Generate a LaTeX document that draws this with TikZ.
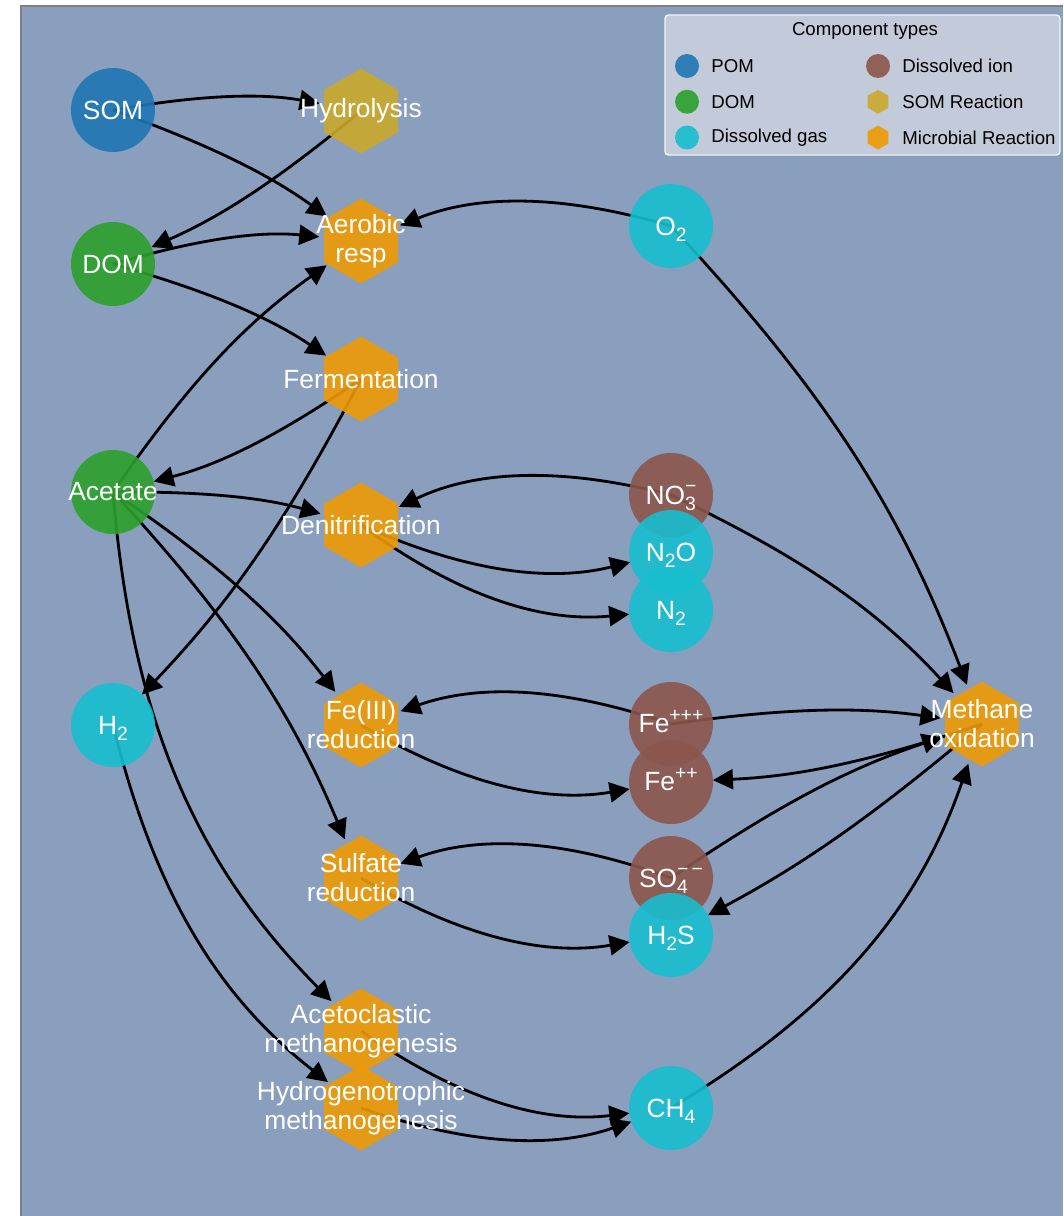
\documentclass[tikz,border=0pt]{standalone}
\usepackage{fontspec}
\setmainfont{Liberation Sans}
\usetikzlibrary{arrows.meta,shapes.geometric}

\definecolor{panel}{HTML}{8A9EBE}
\definecolor{keybg}{HTML}{C3CAD9}
\definecolor{cpom}{HTML}{1F77B4}
\definecolor{cdom}{HTML}{2CA02C}
\definecolor{cgas}{HTML}{17BECF}
\definecolor{cion}{HTML}{8C564B}
\definecolor{csomrxn}{HTML}{CAA92B}
\definecolor{cmicro}{HTML}{EE9A03}

\pgfdeclarelayer{back}
\pgfdeclarelayer{edges}
\pgfsetlayers{back,edges,main}

\newcommand{\sbs}[1]{\smash{\raisebox{-0.25em}{\fontsize{11}{11}\selectfont #1}}}
\newcommand{\sps}[1]{\smash{\raisebox{0.45em}{\fontsize{11}{11}\selectfont #1}}}
\newcommand{\subsup}[2]{\rlap{\sbs{#1}}\sps{#2}}
\newcommand{\nodefont}{\fontsize{15}{16.5}\selectfont}
\newcommand{\keyfont}{\fontsize{10.6}{12}\selectfont}

\tikzset{
    comp/.style={circle, minimum size=1.68cm, inner sep=0pt, fill opacity=0.9, draw=none},
    rxn/.style={regular polygon, regular polygon sides=6, shape border rotate=30,
        minimum size=1.7cm, inner sep=0pt, fill opacity=0.9, draw=none},
    lbl/.style={text=white, font=\nodefont, align=center, inner sep=0pt},
    keytext/.style={font=\keyfont, anchor=west, inner sep=0pt},
    flux/.style={-{Triangle[length=0.4cm, width=0.4cm]}, line width=1.6pt, shorten >=0.84cm},
}

\begin{document}
\begin{tikzpicture}[x=0.02cm, y=0.02cm]
    \useasboundingbox (0,0) rectangle (1063,-1216);

    \begin{pgfonlayer}{back}
        \fill[white] (0,0) rectangle (1063,-1216);
        \fill[panel] (21,-6) rectangle (1063,-1216);
        \draw[gray, line width=0.04cm] (21,-1216) -- (21,-6) -- (1063,-6);
    \end{pgfonlayer}

    % organic matter and reactions
    \node[comp, fill=cpom] (som) at (113,-110) {};
    \node[rxn, fill=csomrxn] (hyd) at (361,-111) {};
    \node[comp, fill=cdom] (dom) at (113,-264) {};
    \node[rxn, fill=cmicro] (aer) at (361,-241) {};
    \node[rxn, fill=cmicro] (fer) at (361,-379) {};
    \node[comp, fill=cdom] (ace) at (113,-492) {};
    \node[rxn, fill=cmicro] (den) at (361,-525) {};
    \node[comp, fill=cgas] (h2) at (113,-725) {};
    \node[rxn, fill=cmicro] (feiii) at (361,-725) {};
    \node[rxn, fill=cmicro] (sred) at (361,-878) {};
    \node[rxn, fill=cmicro] (acm) at (361,-1031) {};
    \node[rxn, fill=cmicro] (hym) at (361,-1108) {};

    % ions and gases
    \node[comp, fill=cgas] (o2) at (671,-226) {};
    \node[comp, fill=cion] (no3) at (671,-495) {};
    \node[comp, fill=cgas] (n2o) at (671,-552) {};
    \node[comp, fill=cgas] (n2) at (671,-610) {};
    \node[comp, fill=cion] (fe3) at (671,-724) {};
    \node[comp, fill=cion] (fe2) at (671,-782) {};
    \node[comp, fill=cion] (so4) at (671,-878) {};
    \node[comp, fill=cgas] (h2s) at (671,-935) {};
    \node[comp, fill=cgas] (ch4) at (671,-1108) {};
    \node[rxn, fill=cmicro] (mox) at (982,-724) {};

    \begin{pgfonlayer}{edges}
        \draw[flux] (som.center) to[bend left=10] (hyd.center);
        \draw[flux] (som.center) to[bend left=8] (aer.center);
        \draw[flux] (hyd.center) to[bend left=8] (dom.center);
        \draw[flux] (dom.center) to[bend left=11] (aer.center);
        \draw[flux] (dom.center) to[bend left=9] (fer.center);
        \draw[flux] (fer.center) to[bend left=10] (ace.center);
        \draw[flux] (fer.center) to[bend left=8] (h2.center);
        \draw[flux] (ace.center) to[bend left=10] (aer.center);
        \draw[flux] (ace.center) to[bend left=8] (den.center);
        \draw[flux] (ace.center) to[bend left=9] (feiii.center);
        \draw[flux] (ace.center) to[bend left=10] (sred.center);
        \draw[flux] (ace.center) to[bend right=20] (acm.center);
        \draw[flux] (h2.center) to[bend right=19] (hym.center);
        \draw[flux] (o2.center) to[bend right=19] (aer.center);
        \draw[flux] (o2.center) to[bend left=11] (mox.center);
        \draw[flux] (no3.center) to[bend right=20] (den.center);
        \draw[flux] (no3.center) to[bend left=11] (mox.center);
        \draw[flux] (den.center) to[bend right=19] (n2o.center);
        \draw[flux] (den.center) to[bend right=21] (n2.center);
        \draw[flux] (fe3.center) to[bend right=19] (feiii.center);
        \draw[flux] (fe3.center) to[bend left=8] (mox.center);
        \draw[flux] (feiii.center) to[bend right=20] (fe2.center);
        \draw[flux] (mox.center) to[bend left=8] (fe2.center);
        \draw[flux] (so4.center) to[bend right=20] (sred.center);
        \draw[flux] (so4.center) to[bend left=8] (mox.center);
        \draw[flux] (sred.center) to[bend right=20] (h2s.center);
        \draw[flux] (mox.center) to[bend left=6] (h2s.center);
        \draw[flux] (acm.center) to[bend right=21] (ch4.center);
        \draw[flux] (hym.center) to[bend right=19] (ch4.center);
        \draw[flux] (ch4.center) to[bend right=20] (mox.center);
    \end{pgfonlayer}

    % labels on top of all shapes
    \foreach \n/\t in {som/SOM, hyd/Hydrolysis, dom/DOM, aer/{Aerobic\\resp},
        fer/Fermentation, ace/Acetate, den/Denitrification, h2/{H\sbs{2}},
        feiii/{Fe(III)\\reduction}, sred/{Sulfate\\reduction},
        acm/{Acetoclastic\\methanogenesis}, hym/{Hydrogenotrophic\\methanogenesis},
        o2/{O\sbs{2}}, no3/{NO\subsup{3}{−}}, n2o/{N\sbs{2}O},
        n2/{N\sbs{2}}, fe3/{Fe\sps{+++}}, fe2/{Fe\sps{++}},
        so4/{SO\subsup{4}{−\,−}}, h2s/{H\sbs{2}S}, ch4/{CH\sbs{4}},
        mox/{Methane\\oxidation}}
        \node[lbl] (\n-t) at (\n.center) {\t};

    % legend
    \draw[fill=keybg, draw=white!80!keybg, line width=0.8pt, rounded corners=2pt]
        (665,-15) rectangle (1060,-155);
    \node[font=\keyfont] (key-title) at (865,-31) {Component types};
    \foreach \c/\s/\row/\col/\txt in {cpom/comp/0/0/POM, cdom/comp/1/0/DOM,
        cgas/comp/2/0/Dissolved gas, cion/comp/0/1/Dissolved ion,
        csomrxn/rxn/1/1/SOM Reaction, cmicro/rxn/2/1/Microbial Reaction} {
        \node[\s, fill=\c, minimum size=0.48cm] (key-\row\col) at ({687+191*\col},{-66-35.75*\row}) {};
        \node[keytext] (keyt-\row\col) at ({711+191*\col},{-66-35.75*\row}) {\txt};
    }
\end{tikzpicture}
\end{document}
